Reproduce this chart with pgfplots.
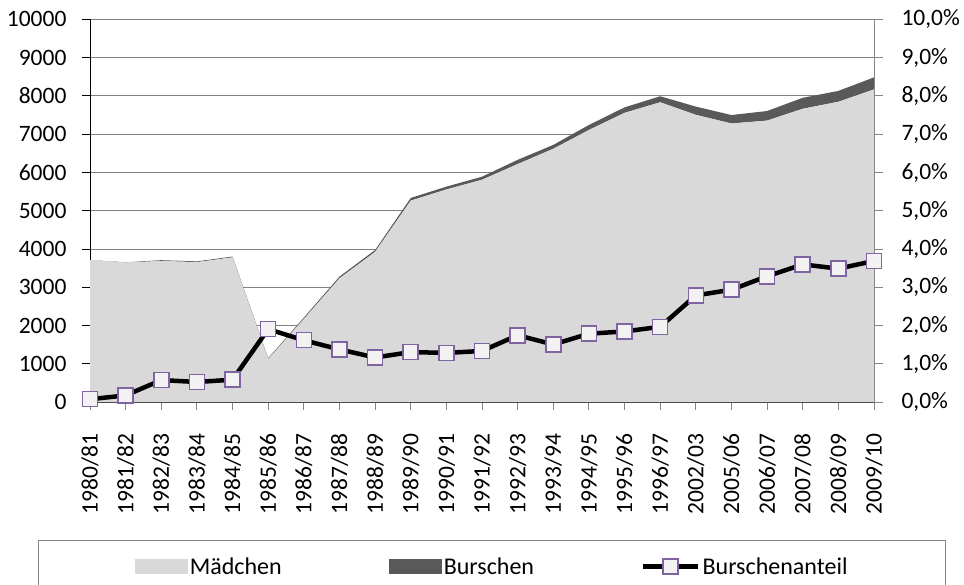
\documentclass[border=0pt]{standalone}
\usepackage{fontspec}
\setmainfont{Carlito}
\usepackage{pgfplots}
\pgfplotsset{compat=1.18}
\definecolor{mgray}{HTML}{D9D9D9}
\definecolor{bgray}{HTML}{595959}
\definecolor{mfill}{HTML}{F2F2F2}
\definecolor{mdraw}{HTML}{8064A2}
\definecolor{raxis}{HTML}{868686}
\definecolor{gridc}{HTML}{808080}
\newcommand{\tfont}{\fontsize{23.5}{28}\selectfont}
\newcommand{\lfont}{\fontsize{24}{28}\selectfont}
\begin{document}
\begin{tikzpicture}
\begin{axis}[
  set layers,
  at={(90pt,182.7pt)}, anchor=south west,
  width=784pt, height=383pt, scale only axis,
  xmin=0, xmax=22, ymin=0, ymax=10000,
  stack plots=y,
  axis x line*=bottom, axis y line*=left,
  axis line style={on layer=axis foreground, line width=1pt, black},
  tick align=outside,
  major tick length=8pt,
  xtick={0,...,22},
  xticklabels={1980/81,1981/82,1982/83,1983/84,1984/85,1985/86,1986/87,1987/88,1988/89,1989/90,1990/91,1991/92,1992/93,1993/94,1994/95,1995/96,1996/97,2002/03,2005/06,2006/07,2007/08,2008/09,2009/10},
  x tick style={color=raxis, line width=1pt},
  y tick style={color=black, line width=1pt},
  ytick={0,1000,...,10000},
  scaled y ticks=false,
  /pgf/number format/1000 sep={},
  /pgf/number format/assume math mode=true,
  ymajorgrids,
  grid style={color=gridc, line width=1pt},
  xticklabel style={rotate=90, anchor=east, xshift=-20pt, font=\tfont},
  yticklabel style={xshift=-12pt, font=\tfont},
]
\addplot[fill=mgray, draw=none] coordinates {
(0,3712) (1,3648) (2,3688) (3,3660) (4,3783) (5,1128) (6,2175) (7,3235) (8,3928) (9,5265) (10,5557) (11,5811) (12,6219) (13,6619) (14,7110) (15,7558) (16,7833) (17,7505) (18,7280) (19,7355) (20,7664) (21,7846) (22,8170)
} \closedcycle;
\addplot[fill=bgray, draw=none] coordinates {
(0,3) (1,7) (2,22) (3,20) (4,22) (5,22) (6,35) (7,45) (8,47) (9,70) (10,73) (11,79) (12,111) (13,101) (14,130) (15,142) (16,157) (17,215) (18,220) (19,250) (20,286) (21,284) (22,313)
} \closedcycle;
\end{axis}
\begin{axis}[
  at={(90pt,182.7pt)}, anchor=south west,
  width=784pt, height=383pt, scale only axis,
  xmin=0, xmax=22, ymin=0, ymax=10,
  axis x line=none, axis y line*=right,
  y axis line style={color=raxis, line width=1pt},
  tick align=outside,
  major tick length=9pt,
  y tick style={color=raxis, line width=1pt},
  ytick={0,1,...,10},
  /pgf/number format/assume math mode=true,
  yticklabel={\pgfmathprintnumber[fixed,fixed zerofill,precision=1,use comma]{\tick}\%},
  yticklabel style={xshift=15pt, font=\tfont},
  clip=false,
  legend columns=3,
  legend style={at={(0.513,-0.3595)}, anchor=north, draw=raxis, line width=1pt,
    inner xsep=96pt, inner ysep=15pt, font=\lfont,
    /tikz/every even column/.append style={column sep=105pt}},
]
\addlegendimage{legend image code/.code={\fill[mgray] (0pt,-7pt) rectangle (52pt,7pt);}}
\addlegendentry{Mädchen}
\addlegendimage{legend image code/.code={\fill[bgray] (0pt,-7pt) rectangle (52pt,7pt);}}
\addlegendentry{Burschen}
\addplot[black, line width=4.5pt, mark=square*, mark size=7.5pt,
  mark options={fill=mfill, draw=mdraw, line width=1.5pt},
  legend image code/.code={\draw[mark repeat=2, mark phase=2] plot coordinates {(0pt,0pt) (27pt,0pt) (55pt,0pt)};}]
coordinates {
(0,0.08) (1,0.18) (2,0.58) (3,0.53) (4,0.59) (5,1.91) (6,1.62) (7,1.38) (8,1.17) (9,1.31) (10,1.29) (11,1.34) (12,1.75) (13,1.51) (14,1.79) (15,1.85) (16,1.97) (17,2.79) (18,2.94) (19,3.29) (20,3.60) (21,3.49) (22,3.69)
};
\addlegendentry{Burschenanteil}
\end{axis}
\pgfresetboundingbox
\useasboundingbox (0pt,0pt) rectangle (964pt,585pt);
\end{tikzpicture}
\end{document}
